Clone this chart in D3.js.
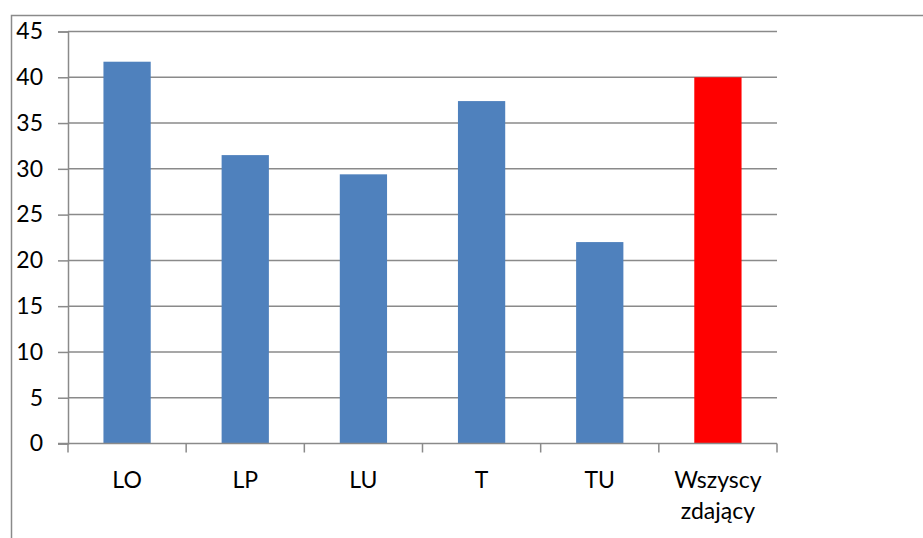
<!DOCTYPE html>
<html><head><meta charset="utf-8">
<script src="https://cdn.jsdelivr.net/npm/d3@7"></script>
<style>body{margin:0;background:#fff}svg{display:block}text{font-family:Lato,"Open Sans",sans-serif;fill:#000}</style>
</head><body><svg id="c" width="923" height="538"></svg>
<script>
const categories = ["LO","LP","LU","T","TU","Wszyscy zdający"];
const values = [41.7, 31.5, 29.4, 37.4, 22.0, 40.0];
const colors = ["#4f81bd","#4f81bd","#4f81bd","#4f81bd","#4f81bd","#ff0000"];
const yTicks = [0,5,10,15,20,25,30,35,40,45];

const svg = d3.select("#c");
const L = 68, R = 777, T = 31.5, B = 443.5;
const grey = "#8a8a8a";
const fs = 23;

// chart border
svg.append("path").attr("d","M11.5,538 V15.5 H923").attr("fill","none").attr("stroke",grey).attr("stroke-width",1.5);

const x = d3.scaleBand().domain(categories).range([L,R]).paddingInner(0.6).paddingOuter(0.3);
const y = d3.scaleLinear().domain([0,45]).range([B,T]);

// gridlines
svg.append("g").selectAll("line").data(yTicks.filter(d=>d>0)).join("line")
  .attr("x1",L).attr("x2",R).attr("y1",d=>y(d)).attr("y2",d=>y(d))
  .attr("stroke",grey).attr("stroke-width",1.5);

// bars
svg.append("g").selectAll("rect").data(values).join("rect")
  .attr("x",(d,i)=>x(categories[i])).attr("width",x.bandwidth())
  .attr("y",d=>y(d)).attr("height",d=>B-y(d)).attr("fill",(d,i)=>colors[i]);

// y axis
const ya = svg.append("g").attr("transform",`translate(${L},0)`)
  .call(d3.axisLeft(y).tickValues(yTicks).tickSize(10).tickPadding(15));
ya.select(".domain").attr("stroke",grey).attr("stroke-width",1.5);
ya.selectAll(".tick line").attr("stroke",grey).attr("stroke-width",1.5);
ya.selectAll(".tick text").attr("font-size",fs).attr("font-family","Lato").attr("fill","#000");

// x axis
const xa = svg.append("g").attr("transform",`translate(0,${B})`);
xa.append("line").attr("x1",L-10).attr("x2",R).attr("y1",0).attr("y2",0).attr("stroke",grey).attr("stroke-width",1.5);
const bounds = categories.map(c=>x(c)-x.step()*x.paddingInner()/2).concat([R]);
xa.selectAll("line.t").data(bounds).join("line").attr("class","t")
  .attr("x1",d=>d).attr("x2",d=>d).attr("y1",0).attr("y2",9).attr("stroke",grey).attr("stroke-width",1.5);
const lbl = xa.selectAll("text").data(categories).join("text")
  .attr("x",d=>x(d)+x.bandwidth()/2).attr("y",44).attr("text-anchor","middle").attr("font-size",fs);
lbl.each(function(d){
  const words = d.split(" ");
  const t = d3.select(this);
  words.forEach((w,i)=>t.append("tspan").attr("x",x(d)+x.bandwidth()/2).attr("dy",i?31:0).text(w));
});
</script></body></html>
